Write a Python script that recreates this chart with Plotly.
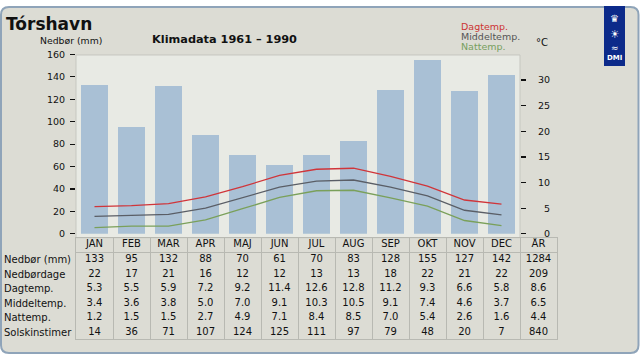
import plotly.graph_objects as go

# ---------------- data ----------------
months = ["JAN", "FEB", "MAR", "APR", "MAJ", "JUN", "JUL", "AUG", "SEP", "OKT", "NOV", "DEC"]
year_label = "ÅR"
precip = [133, 95, 132, 88, 70, 61, 70, 83, 128, 155, 127, 142]
precip_year = 1284
precip_days = [22, 17, 21, 16, 12, 12, 13, 13, 18, 22, 21, 22]
precip_days_year = 209
day_temp = [5.3, 5.5, 5.9, 7.2, 9.2, 11.4, 12.6, 12.8, 11.2, 9.3, 6.6, 5.8]
day_temp_year = 8.6
mean_temp = [3.4, 3.6, 3.8, 5.0, 7.0, 9.1, 10.3, 10.5, 9.1, 7.4, 4.6, 3.7]
mean_temp_year = 6.5
night_temp = [1.2, 1.5, 1.5, 2.7, 4.9, 7.1, 8.4, 8.5, 7.0, 5.4, 2.6, 1.6]
night_temp_year = 4.4
sun_hours = [14, 36, 71, 107, 124, 125, 111, 97, 79, 48, 20, 7]
sun_hours_year = 840

row_labels = ["Nedbør (mm)", "Nedbørdage", "Dagtemp.", "Middeltemp.", "Nattemp.", "Solskinstimer"]
left_ticks = [0, 20, 40, 60, 80, 100, 120, 140, 160]
right_ticks = [0, 5, 10, 15, 20, 25, 30]

W, H = 640, 360
FONT = "DejaVu Sans"
BG = "#dcdcd4"
PLOT_BG = "#e8eae4"
GRID = "#b8b9b2"
BAR = "#a9c0d5"
RED = "#d0353a"
GREY = "#5a5e66"
GREEN = "#7aa05a"


def px(x):
    return x / W


def py(y):
    return 1 - y / H


fig = go.Figure()

# bars (precipitation)
fig.add_trace(go.Bar(x=months, y=precip, marker=dict(color=BAR, line=dict(width=0)),
                     width=0.73, xaxis="x", yaxis="y", hoverinfo="skip"))

# temperature lines
for vals, col in [(day_temp, RED), (mean_temp, GREY), (night_temp, GREEN)]:
    fig.add_trace(go.Scatter(x=months, y=vals, mode="lines", line=dict(color=col, width=1.3),
                             xaxis="x", yaxis="y2", hoverinfo="skip"))

# table text
fmt_i = lambda v: f"{v}"
fmt_f = lambda v: f"{v:.1f}"
table_rows = [
    months + [year_label],
    [fmt_i(v) for v in precip + [precip_year]],
    [fmt_i(v) for v in precip_days + [precip_days_year]],
    [fmt_f(v) for v in day_temp + [day_temp_year]],
    [fmt_f(v) for v in mean_temp + [mean_temp_year]],
    [fmt_f(v) for v in night_temp + [night_temp_year]],
    [fmt_i(v) for v in sun_hours + [sun_hours_year]],
]
ncol = len(months) + 1
for r, row in enumerate(table_rows):
    fig.add_trace(go.Scatter(x=list(range(ncol)), y=[r] * ncol, text=row, mode="text",
                             textposition="middle center",
                             textfont=dict(family=FONT, size=10, color="#111111"),
                             xaxis="x3", yaxis="y3", hoverinfo="skip"))

# rounded frame
r = 8
x0, x1, y0, y1 = 1, 638.5, 1, 358
path = (f"M {px(x0 + r)},{py(y0)} L {px(x1 - r)},{py(y0)} Q {px(x1)},{py(y0)} {px(x1)},{py(y0 + r)} "
        f"L {px(x1)},{py(y1 - r)} Q {px(x1)},{py(y1)} {px(x1 - r)},{py(y1)} "
        f"L {px(x0 + r)},{py(y1)} Q {px(x0)},{py(y1)} {px(x0)},{py(y1 - r)} "
        f"L {px(x0)},{py(y0 + r)} Q {px(x0)},{py(y0)} {px(x0 + r)},{py(y0)} Z")
shapes = [
    dict(type="path", xref="paper", yref="paper", path=path, fillcolor=BG,
         line=dict(color="#8fa4b9", width=2), layer="below"),
    dict(type="rect", xref="paper", yref="paper", x0=px(76), x1=px(520), y0=py(239), y1=py(50.5),
         fillcolor=PLOT_BG, line=dict(color="#c6c7c0", width=1), layer="below"),
    # DMI logo block
    dict(type="rect", xref="paper", yref="paper", x0=px(604), x1=px(625), y0=py(62), y1=py(0),
         fillcolor="#0c2a8a", line=dict(width=0), layer="above"),
]

annotations = [
    dict(text="<b>Tórshavn</b>", x=px(4), y=py(19), xref="paper", yref="paper",
         xanchor="left", yanchor="middle", showarrow=False,
         font=dict(family=FONT, size=17, color="#111111")),
    dict(text="<b>Klimadata 1961 – 1990</b>", x=px(150), y=py(35), xref="paper", yref="paper",
         xanchor="left", yanchor="middle", showarrow=False,
         font=dict(family=FONT, size=11.3, color="#111111")),
    dict(text="Nedbør (mm)", x=px(71), y=py(36), xref="paper", yref="paper",
         xanchor="center", yanchor="middle", showarrow=False,
         font=dict(family=FONT, size=9.3, color="#111111")),
    dict(text="°C", x=px(534), y=py(38), xref="paper", yref="paper",
         xanchor="left", yanchor="middle", showarrow=False,
         font=dict(family=FONT, size=10, color="#111111")),
    dict(text="Dagtemp.", x=px(459), y=py(21.5), xref="paper", yref="paper",
         xanchor="left", yanchor="middle", showarrow=False,
         font=dict(family=FONT, size=9.5, color="#cc3333")),
    dict(text="Middeltemp.", x=px(459), y=py(31.5), xref="paper", yref="paper",
         xanchor="left", yanchor="middle", showarrow=False,
         font=dict(family=FONT, size=9.5, color="#555555")),
    dict(text="Nattemp.", x=px(459), y=py(41.5), xref="paper", yref="paper",
         xanchor="left", yanchor="middle", showarrow=False,
         font=dict(family=FONT, size=9.5, color="#77a060")),
    # logo glyphs
    dict(text="♛", x=px(614.5), y=py(13), xref="paper", yref="paper", xanchor="center",
         yanchor="middle", showarrow=False, font=dict(family=FONT, size=10, color="white")),
    dict(text="☀", x=px(614.5), y=py(29), xref="paper", yref="paper", xanchor="center",
         yanchor="middle", showarrow=False, font=dict(family=FONT, size=11, color="white")),
    dict(text="≈", x=px(614.5), y=py(43), xref="paper", yref="paper", xanchor="center",
         yanchor="middle", showarrow=False, font=dict(family=FONT, size=9, color="white")),
    dict(text="<b>DMI</b>", x=px(614.5), y=py(54), xref="paper", yref="paper", xanchor="center",
         yanchor="middle", showarrow=False, font=dict(family=FONT, size=7, color="white")),
]
for i, lab in enumerate(row_labels):
    annotations.append(dict(text=lab, x=px(2), y=i + 1, xref="paper", yref="y3",
                            xanchor="left", yanchor="middle", showarrow=False,
                            font=dict(family=FONT, size=10, color="#111111")))

right_text = [("\u2007" + str(v)) if v < 10 else str(v) for v in right_ticks]

fig.update_layout(
    width=W, height=H, autosize=False,
    margin=dict(l=0, r=0, t=0, b=0),
    paper_bgcolor="white", plot_bgcolor=PLOT_BG,
    showlegend=False, bargap=0,
    font=dict(family=FONT, size=9.5, color="#111111"),
    xaxis=dict(type="category", domain=[px(76), px(520)], range=[-0.5, 11.5],
               showticklabels=False, ticks="", showgrid=False, zeroline=False,
               showline=False, anchor="y", fixedrange=True),
    yaxis=dict(domain=[py(235), py(50)], range=[0, 160], tickvals=left_ticks,
               ticks="outside", ticklen=5, tickcolor="#111111", tickwidth=1.2,
               showgrid=False, zeroline=False, showline=False, anchor="x",
               tickfont=dict(family=FONT, size=9.5, color="#111111"), ticklabelstandoff=3),
    yaxis2=dict(overlaying="y", side="right", anchor="x", range=[0, 35],
                tickvals=right_ticks, ticktext=right_text,
                ticks="outside", ticklen=5, tickcolor="#111111", tickwidth=1.2,
                showgrid=False, zeroline=False, showline=False,
                tickfont=dict(family=FONT, size=9.5, color="#111111"), ticklabelstandoff=10),
    xaxis3=dict(domain=[px(76), px(557)], range=[-0.5, ncol - 0.5], anchor="y3",
                tickvals=[i + 0.5 for i in range(ncol - 1)], showgrid=True, gridcolor=GRID,
                gridwidth=1, showticklabels=False, ticks="", zeroline=False,
                showline=True, mirror=True, linecolor=GRID, linewidth=1),
    yaxis3=dict(domain=[py(344), py(239)], range=[len(table_rows) - 0.5, -0.5], anchor="x3",
                tickvals=[0.5], showgrid=True, gridcolor=GRID, gridwidth=1,
                showticklabels=False, ticks="", zeroline=False,
                showline=True, mirror=True, linecolor=GRID, linewidth=1),
    shapes=shapes,
    annotations=annotations,
)

fig.write_html(
    "out.html",
    config={"displayModeBar": False, "staticPlot": True},
    post_script=(
        "document.body.style.margin='0';document.body.style.padding='0';"
        "var d=document.getElementById('{plot_id}');"
        "d.style.position='absolute';d.style.left='0px';d.style.top='0px';"
    ),
)
